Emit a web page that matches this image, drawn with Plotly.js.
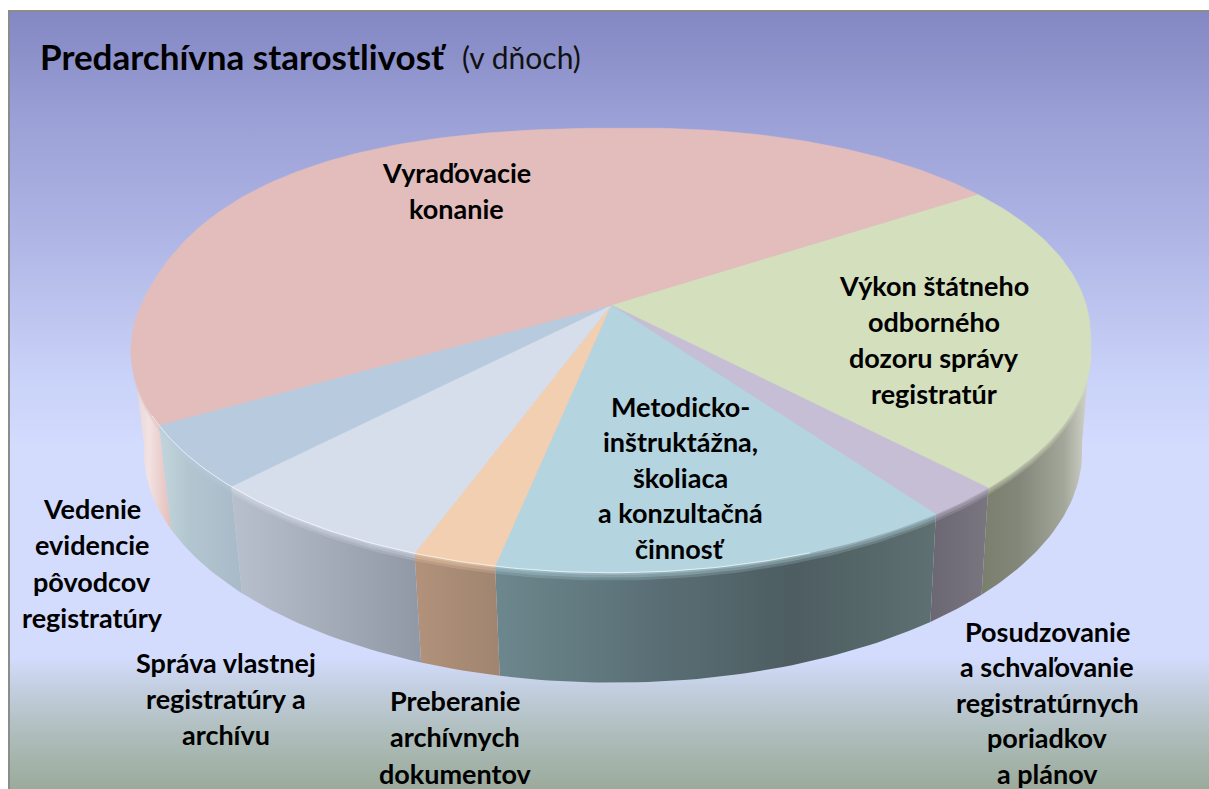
<!DOCTYPE html>
<html><head><meta charset="utf-8">
<script src="https://cdn.plot.ly/plotly-3.0.1.min.js"></script>
<style>html,body{margin:0;padding:0;background:#fff}#c{width:1209px;height:789px}</style>
</head><body><div id="c"></div>
<script>
// Data: days per activity
const categories = [
  "Výkon štátneho<br>odborného<br>dozoru správy<br>registratúr",
  "Posudzovanie<br>a schvaľovanie<br>registratúrnych<br>poriadkov<br>a plánov",
  "Metodicko-<br>inštruktážna,<br>školiaca<br>a konzultačná<br>činnosť",
  "Preberanie<br>archívnych<br>dokumentov",
  "Správa vlastnej<br>registratúry a<br>archívu",
  "Vedenie<br>evidencie<br>pôvodcov<br>registratúry",
  "Vyraďovacie<br>konanie"
];
const days = [56, 5.5, 32.3, 5.8, 16.5, 11.2, 122.7];
const titleMain = "Predarchívna starostlivosť";
const titleSub = "(v dňoch)";

// Styles
const topColors = ["#d4dfbd","#c6bed4","#b4d4df","#f1cfb0","#d7deeb","#b8cbde","#e2bdbc"];
const wallScales = [
  {x:[980,1092], c:[[0,"#7a7e6c"],[0.35,"#83877a"],[0.75,"#a3a79a"],[0.93,"#c9ccc1"],[1,"#e2e4db"]]},
  {x:[928,985],  c:[[0,"#6a6773"],[1,"#78757f"]]},
  {x:[495,935],  c:[[0,"#6c878d"],[0.35,"#5a7076"],[0.68,"#4d5d61"],[1,"#5e7072"]]},
  {x:[420,497],  c:[[0,"#b1917a"],[1,"#a08570"]]},
  {x:[237,423],  c:[[0,"#b8bfcc"],[1,"#8f98a4"]]},
  {x:[165,245],  c:[[0,"#c0d3da"],[0.3,"#b2c6d0"],[1,"#a8b9c7"]]},
  {x:[130,172],  c:[[0,"#e0d0d8"],[0.45,"#f2e2e2"],[1,"#e3bdb9"]]}
];
const bgScale = [[0,"#8387c3"],[0.14,"#9ba0d6"],[0.3,"#b0b7e6"],[0.47,"#c9d2f8"],[0.56,"#d3dcfd"],[0.83,"#d3dcfd"],[0.87,"#c3cfe0"],[0.93,"#aebdbb"],[1,"#9aab9c"]];

// Perspective model of the disc; the far half of the outline is slightly fuller
const AX=611, AY=305, A=470, B=213, K=0.2045, START=-33.7, STEP=1, VIS0=10, VIS1=170;
const rad=d=>d*Math.PI/180;
function fuller(t){
  const a=((t%360)+360)%360, b=a>180?a-360:a;
  if(b>-90&&b<10){return 1+0.05*Math.pow(Math.sin(Math.PI*(b+90)/100),1.3);}
  if(a>180&&a<=270){const s=Math.sin(rad(2*a));return 1+0.05*s*s;}
  return 1;
}
function rim(t){const r=fuller(t),u=r*Math.cos(rad(t)),v=r*Math.sin(rad(t)),w=1-K*v;return [A*u/w,B*v/w];}
function low(t,f){const [X,Y]=rim(t);return [AX+X*(1-0.023*f)+2*f,AY+Y*(1+0.037*f)+100*f];}
function arc(t0,t1,f){const p=[];const n=Math.max(1,Math.ceil(Math.abs(t1-t0)/STEP));
  for(let i=0;i<=n;i++){p.push(low(t0+(t1-t0)*i/n,f));}return p;}

const total=days.reduce((a,b)=>a+b,0);
const spans=[];let acc=START;
days.forEach(d=>{const s=d/total*360;spans.push([acc,acc+s]);acc+=s;});

const traces=[];
function poly(pts,extra){traces.push(Object.assign({type:'scatter',mode:'lines',x:pts.map(p=>p[0]),y:pts.map(p=>p[1]),
  fill:'toself',line:{width:0},hoverinfo:'skip',showlegend:false},extra));}

// Background panel
poly([[9,11],[1209,11],[1209,789],[9,789],[9,11]],{fillcolor:'rgba(0,0,0,0)',
  fillgradient:{type:'vertical',start:11,stop:789,colorscale:bgScale}});
traces.push({type:'scatter',mode:'lines',x:[9,9,1209],y:[789,11,11],line:{color:'#8c8c8c',width:2},hoverinfo:'skip',showlegend:false});

// Side wall
spans.forEach((s,i)=>{
  const t0=Math.max(s[0],VIS0),t1=Math.min(s[1],VIS1);
  if(t1<=t0)return;
  const pts=arc(t0,t1,0).concat(arc(t1,t0,1));pts.push(pts[0]);
  poly(pts,{fillgradient:{type:'horizontal',start:wallScales[i].x[0],stop:wallScales[i].x[1],colorscale:wallScales[i].c}});
});
// Soft bevel just below the rim
spans.forEach((s,i)=>{
  const t0=Math.max(s[0],VIS0),t1=Math.min(s[1],VIS1);
  if(t1<=t0)return;
  [[0.07,0.22],[0.045,0.3],[0.02,0.4]].forEach(b=>{
    const pts=arc(t0,t1,0).concat(arc(t1,t0,b[0]));pts.push(pts[0]);
    poly(pts,{fillcolor:topColors[i],opacity:b[1]});
  });
});
// Top surface, one wedge per value
spans.forEach((s,i)=>{
  const pts=[[AX,AY]].concat(arc(s[0],s[1],0));pts.push([AX,AY]);
  traces.push({type:'scatter',mode:'lines',x:pts.map(p=>p[0]),y:pts.map(p=>p[1]),fill:'toself',
    fillcolor:topColors[i],line:{width:0.6,color:topColors[i]},hoverinfo:'skip',showlegend:false});
});
// Rim highlight on the lit side
(()=>{const p=arc(70,152,0);traces.push({type:'scatter',mode:'lines',x:p.map(q=>q[0]),y:p.map(q=>q[1]),
  line:{color:'rgba(255,255,255,0.65)',width:1},hoverinfo:'skip',showlegend:false});})();

// Labels: one annotation per line
const labelX=[934,1047,680,455,226,92,456];
const labelY=[285,631,406,700,662,508,172];
const labelStep=[36,35.5,35.5,36.5,36,36.5,36];
const FS=27;
const ann=[];
categories.forEach((c,i)=>{
  c.split('<br>').forEach((ln,j)=>{
    ann.push({x:labelX[i],y:labelY[i]+j*labelStep[i],xref:'x',yref:'y',text:'<b>'+ln+'</b>',showarrow:false,
      xanchor:'center',yanchor:'middle',font:{family:'Lato, "Open Sans", sans-serif',size:FS,color:'#000'}});
  });
});
ann.push({x:38,y:56,xref:'x',yref:'y',text:'<b>'+titleMain+'</b>',showarrow:false,xanchor:'left',yanchor:'middle',
  font:{family:'Lato, "Open Sans", sans-serif',size:35,color:'#000'}});
ann.push({x:460,y:57,xref:'x',yref:'y',text:titleSub,showarrow:false,xanchor:'left',yanchor:'middle',
  font:{family:'Lato, "Open Sans", sans-serif',size:30,color:'#111'}});

const axis={visible:false,fixedrange:true,showgrid:false,zeroline:false};
Plotly.newPlot('c',traces,{
  width:1209,height:789,margin:{l:0,r:0,t:0,b:0,pad:0},
  paper_bgcolor:'#ffffff',plot_bgcolor:'rgba(0,0,0,0)',showlegend:false,hovermode:false,
  xaxis:Object.assign({range:[0,1209]},axis),
  yaxis:Object.assign({range:[789,0]},axis),
  annotations:ann
},{displayModeBar:false,responsive:false});
</script></body></html>
